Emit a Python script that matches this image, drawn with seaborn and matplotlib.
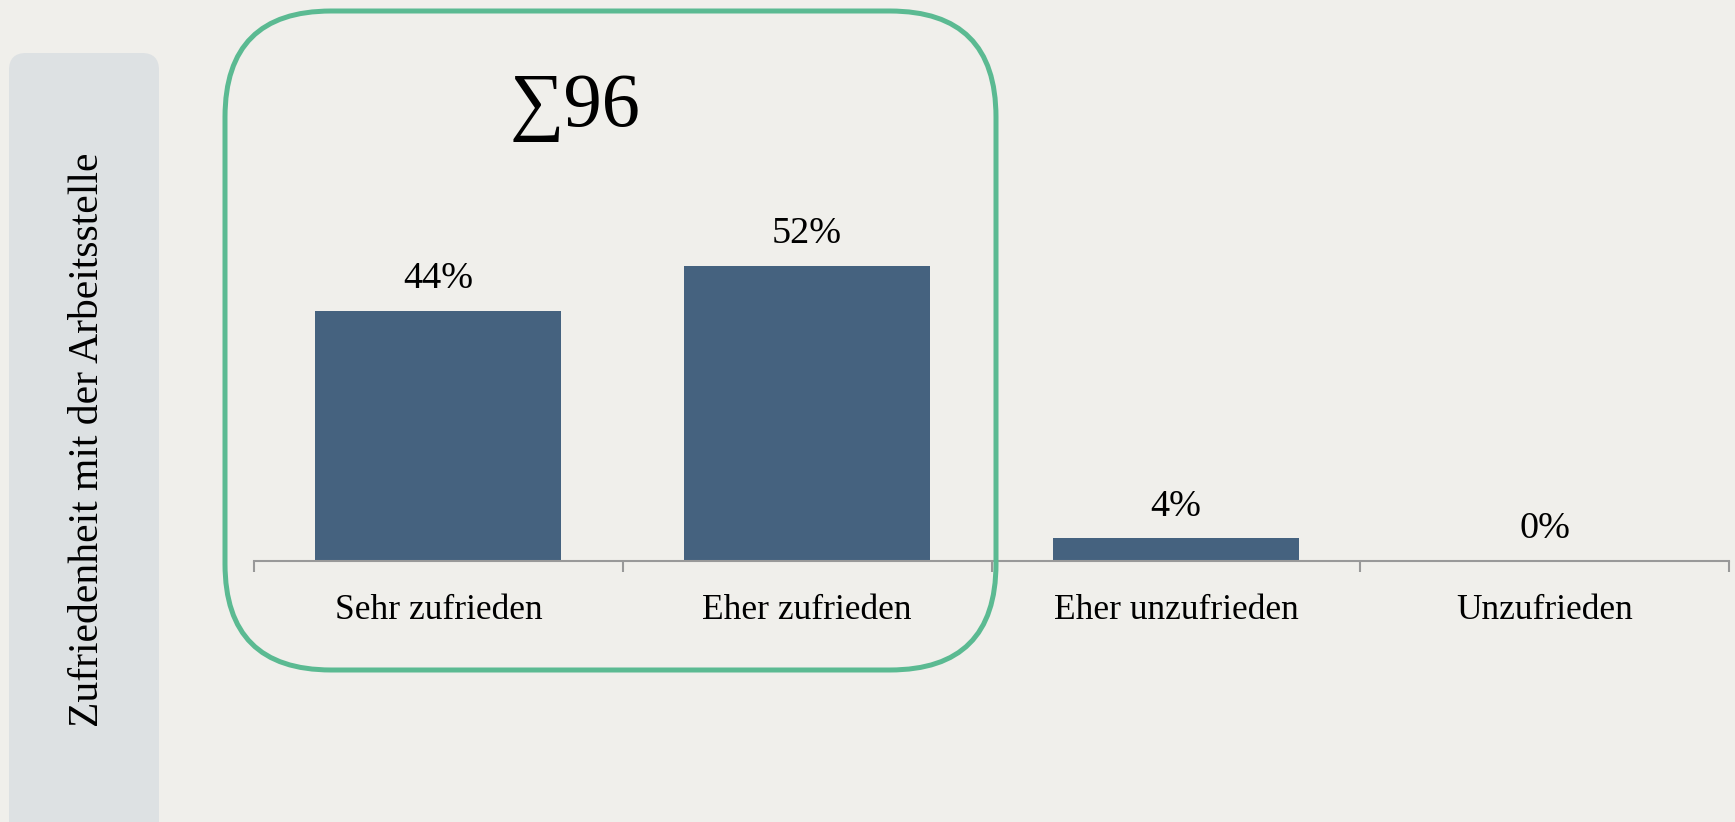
import seaborn as sns
import pandas as pd
import matplotlib.pyplot as plt
from matplotlib.patches import FancyBboxPatch

# data
categories = ["Sehr zufrieden", "Eher zufrieden", "Eher unzufrieden", "Unzufrieden"]
shares = [44, 52, 4, 0]
total_label = "\u221196"
axis_title = "Zufriedenheit mit der Arbeitsstelle"

BG = "#F0EFEB"
BAR = "#45627F"
GREEN = "#5BBA92"
PANEL = "#DDE1E3"
FONT = ["Liberation Serif", "DejaVu Serif"]

df = pd.DataFrame({"category": categories, "share": shares})

sns.set_theme(style="white")
plt.rcParams["font.family"] = FONT

fig = plt.figure(figsize=(17.35, 8.22), dpi=100, facecolor=BG)
ax = fig.add_axes([254 / 1735, 261 / 822, 1475 / 1735, 550 / 822])
ax.set_facecolor("none")

sns.barplot(data=df, x="category", y="share", color=BAR, width=0.667,
            saturation=1, linewidth=0, ax=ax)

ax.set_xlim(-0.5, len(categories) - 0.5)
ax.set_ylim(0, 550 / 5.68)

# value labels
for i, v in enumerate(shares):
    ax.annotate(f"{v}%", (i, v), xytext=(0, 23), textcoords="offset points",
                ha="center", va="center", fontsize=27.5, color="black")

# axis styling
for s in ["top", "right", "left"]:
    ax.spines[s].set_visible(False)
ax.spines["bottom"].set_color("#999999")
ax.spines["bottom"].set_linewidth(1.5)
ax.set_yticks([])
ax.set_xlabel("")
ax.set_ylabel("")
ax.tick_params(axis="x", which="major", length=0, pad=24, labelsize=25.5,
               labelcolor="black")
ax.set_xticks([i - 0.5 for i in range(len(categories) + 1)], minor=True)
ax.tick_params(axis="x", which="minor", bottom=True, length=8, width=1.5,
               color="#999999", direction="out")

# left title panel
panel = FancyBboxPatch((0.09, -0.5), 1.50, 8.19,
                       boxstyle="round,pad=0,rounding_size=0.17",
                       transform=fig.dpi_scale_trans, facecolor=PANEL,
                       edgecolor="none", zorder=0)
fig.patches.append(panel)
fig.text(0.88 / 17.35, 3.82 / 8.22, axis_title, rotation=90, ha="center",
         va="center", fontsize=30, color="black")

# green highlight around the satisfied categories
frame = FancyBboxPatch((2.25, 1.52), 7.71, 6.59,
                       boxstyle="round,pad=0,rounding_size=1.06",
                       transform=fig.dpi_scale_trans, facecolor="none",
                       edgecolor=GREEN, linewidth=3.6, zorder=5)
fig.patches.append(frame)
fig.text(575 / 1735, 1 - 107 / 822, total_label, ha="center", va="center",
         fontsize=55, color="black")

plt.savefig("out.png", dpi=100, facecolor=BG)
